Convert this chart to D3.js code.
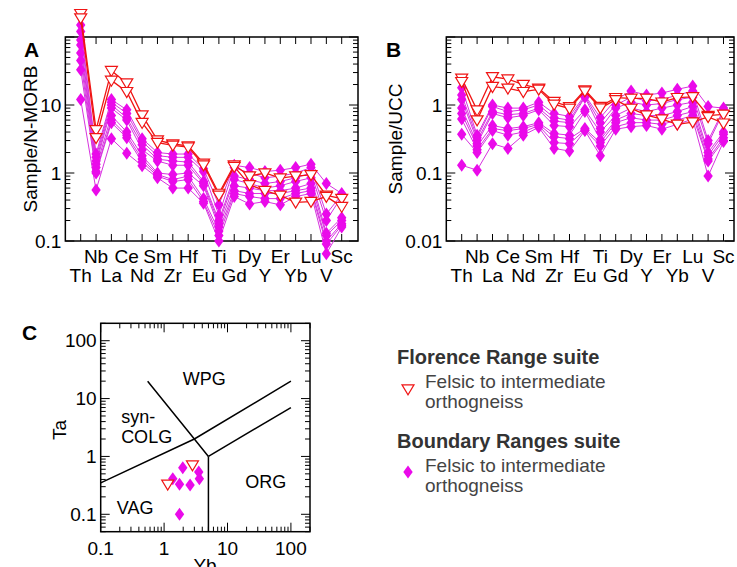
<!DOCTYPE html>
<html>
<head>
<meta charset="utf-8">
<script src="https://d3js.org/d3.v7.min.js"></script>
<style>
    body { margin: 0; background: #fff; }
    svg { font-family: "Liberation Sans", Arial, sans-serif; }
    .frame { fill: none; stroke: #000; stroke-width: 1.5px; }
    .tk { stroke: #000; stroke-width: 1px; }
    .pline { fill: none; stroke: #d733df; stroke-width: 1px; }
    .rline { fill: none; stroke: #f01414; stroke-width: 1.3px; }
    .diamond { fill: #ea0aea; stroke: none; }
    .tri { fill: #fff; stroke: #f01414; stroke-width: 1.2px; }
    .field { fill: none; stroke: #000; stroke-width: 1.5px; }
    .lbl { font-size: 19px; fill: #000; }
    .fld { font-size: 18px; fill: #000; }
    .panel { font-size: 21px; font-weight: bold; fill: #000; }
    .legh { font-size: 20px; font-weight: bold; fill: #333; }
    .legt { font-size: 19px; fill: #444; }
</style>
</head>
<body>
<svg width="737" height="567"></svg>
<script>
// ---- data ----
var elements = ["Th", "Nb", "La", "Ce", "Nd", "Sm", "Zr", "Hf", "Eu", "Ti",
                "Gd", "Dy", "Y", "Er", "Yb", "Lu", "V", "Sc"];

// A: sample / N-MORB, Florence Range suite (red)
var morbF1 = [220, 4.3, 32, 21, 7.1, 3.05, 2.67, 2.5, 1.39, 0.50, 1.31, 0.90, 1.0, 0.84, 0.9, 0.94, 0.47, 0.42];
var morbF2 = [190, 3.3, 23, 15.7, 5.5, 2.8, 2.55, 2.4, 1.31, 0.47, 1.24, 0.67, 0.55, 0.47, 0.37, 0.38, 0.45, 0.32];
// A: sample / N-MORB, Boundary Ranges suite (magenta)
var morbB1 = [150, 1.9, 12, 8.5, 3.2, 2.0, 1.9, 1.9, 1.15, 0.34, 1.3, 1.2, 1.05, 1.1, 1.2, 1.35, 0.7, 0.5];
var morbB2 = [120, 1.7, 11, 7.5, 2.9, 1.8, 1.7, 1.7, 1.05, 0.24, 1.2, 1.0, 0.85, 0.9, 1.0, 1.2, 0.25, 0.48];
var morbB3 = [90, 1.5, 10, 6.5, 2.6, 1.6, 1.5, 1.45, 0.75, 0.2, 0.9, 0.8, 0.7, 0.75, 0.85, 1.0, 0.2, 0.45];
var morbB4 = [76, 1.35, 9, 6, 2.2, 1.5, 1.3, 1.3, 0.7, 0.18, 0.8, 0.7, 0.6, 0.65, 0.75, 0.85, 0.13, 0.22];
var morbB5 = [58, 1.2, 7, 4, 1.8, 1.0, 0.95, 1.0, 0.65, 0.16, 0.65, 0.6, 0.55, 0.55, 0.6, 0.7, 0.12, 0.2];
var morbB6 = [45, 1.05, 6, 3.6, 1.6, 0.95, 0.8, 0.9, 0.42, 0.14, 0.55, 0.5, 0.5, 0.5, 0.55, 0.6, 0.1, 0.18];
var morbB7 = [33, 1.0, 5.5, 3.3, 1.45, 0.9, 0.75, 0.8, 0.38, 0.12, 0.5, 0.45, 0.42, 0.42, 0.5, 0.55, 0.09, 0.17];
var morbB8 = [12, 0.56, 3.2, 1.95, 1.28, 0.85, 0.6, 0.6, 0.36, 0.1, 0.45, 0.35, 0.38, 0.34, 0.45, 0.5, 0.065, 0.16];

// B: sample / UCC
var uccF1 = [2.47, 0.84, 2.6, 2.4, 2.0, 1.76, 1.12, 0.94, 1.66, 0.95, 1.28, 1.25, 1.25, 1.1, 1.28, 1.32, 0.70, 0.73];
var uccF2 = [2.2, 0.60, 1.86, 1.76, 1.57, 1.7, 1.02, 0.89, 1.6, 0.9, 1.19, 0.89, 0.71, 0.62, 0.52, 0.56, 0.67, 0.54];
var uccB1 = [1.8, 0.36, 1.0, 0.9, 0.9, 1.1, 0.75, 0.68, 1.4, 0.65, 1.2, 1.6, 1.4, 1.5, 1.7, 1.9, 0.95, 0.9];
var uccB2 = [1.4, 0.33, 0.95, 0.8, 0.85, 1.0, 0.65, 0.6, 1.35, 0.55, 1.0, 1.3, 1.15, 1.2, 1.4, 1.6, 0.3, 0.85];
var uccB3 = [1.2, 0.3, 0.8, 0.72, 0.75, 0.9, 0.58, 0.55, 1.3, 0.45, 0.9, 1.1, 1.0, 1.05, 1.2, 1.3, 0.27, 0.8];
var uccB4 = [0.9, 0.27, 0.75, 0.65, 0.7, 0.85, 0.5, 0.48, 0.85, 0.4, 0.7, 0.9, 0.8, 0.9, 1.0, 1.1, 0.2, 0.4];
var uccB5 = [0.75, 0.25, 0.5, 0.45, 0.48, 0.55, 0.38, 0.36, 0.8, 0.31, 0.6, 0.75, 0.7, 0.7, 0.8, 0.95, 0.18, 0.37];
var uccB6 = [0.62, 0.22, 0.45, 0.42, 0.45, 0.52, 0.34, 0.32, 0.45, 0.28, 0.55, 0.65, 0.6, 0.6, 0.7, 0.8, 0.16, 0.33];
var uccB7 = [0.37, 0.2, 0.42, 0.36, 0.4, 0.5, 0.28, 0.27, 0.43, 0.25, 0.48, 0.55, 0.55, 0.52, 0.6, 0.7, 0.15, 0.3];
var uccB8 = [0.13, 0.11, 0.27, 0.23, 0.36, 0.47, 0.23, 0.21, 0.42, 0.18, 0.44, 0.48, 0.5, 0.44, 0.52, 0.62, 0.09, 0.29];

// C: Ta vs Yb
var ybFlorence = [1.14, 2.8];
var taFlorence = [0.33, 0.71];
var ybBoundary = [1.37, 1.75, 1.97, 2.57, 3.52, 3.6, 1.75];
var taBoundary = [0.41, 0.33, 0.64, 0.32, 0.54, 0.41, 0.10];

// field boundaries (Pearce et al. 1984), [Yb, Ta]
var lineSynColg = [[0.1, 0.35], [3, 2], [100, 20]];
var lineWpg = [[0.55, 20], [3, 2], [5, 1]];
var lineOrg = [[5, 1], [100, 7]];
var lineVag = [[5, 1], [5, 0.05]];
var fieldNames = ["WPG", "syn-", "COLG", "ORG", "VAG"];
var fieldAt = [[4.3, 17], [0.21, 3.8], [0.21, 1.72], [40, 0.29], [0.35, 0.103]];

var decadeLabel = function (d) { return d >= 1 ? d3.format("d")(d) : String(d); };

var svg = d3.select("svg");

var diamondPath = "M0,-6.5L4.7,0L0,6.5L-4.7,0Z";
var triPath = "M-6,-4.2L6,-4.2L0,5.8Z";

function isDecade(v) {
    var l = Math.log10(v);
    return Math.abs(l - Math.round(l)) < 1e-6;
}

function spider(opt) {
    var g = svg.append("g");
    var x = d3.scalePoint().domain(elements).range([opt.x0, opt.x1]);
    var y = d3.scaleLog().domain(opt.ydom).range([241, 37]);
    var left = opt.x0 - x.step(), right = opt.boxRight;

    // y ticks inward, both sides
    y.ticks().forEach(function (v) {
        var len = isDecade(v) ? 9 : 5;
        g.append("line").attr("class", "tk").attr("x1", left).attr("x2", left + len).attr("y1", y(v)).attr("y2", y(v));
        g.append("line").attr("class", "tk").attr("x1", right).attr("x2", right - len).attr("y1", y(v)).attr("y2", y(v));
        if (isDecade(v) && v < opt.ydom[1]) {
            g.append("text").attr("class", "lbl").attr("x", left - 4).attr("y", y(v)).attr("dy", "0.35em")
                .attr("text-anchor", "end").text(decadeLabel(v));
        }
    });
    // x ticks top and bottom
    elements.forEach(function (e, i) {
        g.append("line").attr("class", "tk").attr("x1", x(e)).attr("x2", x(e)).attr("y1", 37).attr("y2", 44);
        g.append("line").attr("class", "tk").attr("x1", x(e)).attr("x2", x(e)).attr("y1", 241).attr("y2", 234);
        g.append("text").attr("class", "lbl").attr("x", x(e)).attr("y", i % 2 ? 263 : 282)
            .attr("text-anchor", "middle").text(e);
    });
    g.append("rect").attr("class", "frame").attr("x", left).attr("y", 37)
        .attr("width", right - left).attr("height", 204);

    var line = d3.line().x(function (d, i) { return x(elements[i]); }).y(function (d) { return y(d); });

    opt.boundary.forEach(function (s) {
        g.append("path").attr("class", "pline").attr("d", line(s));
    });
    opt.boundary.forEach(function (s) {
        g.selectAll(null).data(s).enter().append("path").attr("class", "diamond")
            .attr("transform", function (d, i) { return "translate(" + x(elements[i]) + "," + y(d) + ")"; })
            .attr("d", diamondPath);
    });
    opt.florence.forEach(function (s) {
        g.append("path").attr("class", "rline").attr("d", line(s));
    });
    opt.florence.forEach(function (s) {
        g.selectAll(null).data(s).enter().append("path").attr("class", "tri")
            .attr("transform", function (d, i) { return "translate(" + x(elements[i]) + "," + y(d) + ")"; })
            .attr("d", triPath);
    });

    g.append("text").attr("class", "lbl")
        .attr("transform", "translate(" + opt.titleX + ",139) rotate(-90)")
        .attr("text-anchor", "middle").text(opt.title);
    g.append("text").attr("class", "panel").attr("x", opt.letterX).attr("y", 57).text(opt.letter);
}

spider({
    x0: 80.7, x1: 341.7, boxRight: 358, ydom: [0.1, 100],
    boundary: [morbB1, morbB2, morbB3, morbB4, morbB5, morbB6, morbB7, morbB8],
    florence: [morbF1, morbF2],
    title: "Sample/N-MORB", titleX: 37, letter: "A", letterX: 24
});
spider({
    x0: 461.7, x1: 723.5, boxRight: 734, ydom: [0.01, 10],
    boundary: [uccB1, uccB2, uccB3, uccB4, uccB5, uccB6, uccB7, uccB8],
    florence: [uccF1, uccF2],
    title: "Sample/UCC", titleX: 402, letter: "B", letterX: 386
});

// ---- panel C ----
(function () {
    var g = svg.append("g");
    var x = d3.scaleLog().domain([0.1, 200]).range([100.7, 310]);
    var y = d3.scaleLog().domain([0.05, 200]).range([531.7, 323.3]);
    var L = 100.7, R = 310, T = 323.3, B = 531.7;

    x.ticks().forEach(function (v) {
        var len = isDecade(v) ? 9 : 5;
        g.append("line").attr("class", "tk").attr("x1", x(v)).attr("x2", x(v)).attr("y1", B).attr("y2", B - len);
        g.append("line").attr("class", "tk").attr("x1", x(v)).attr("x2", x(v)).attr("y1", T).attr("y2", T + len);
        if (isDecade(v)) {
            g.append("text").attr("class", "lbl").attr("x", x(v)).attr("y", 555)
                .attr("text-anchor", "middle").text(decadeLabel(v));
        }
    });
    y.ticks().forEach(function (v) {
        var len = isDecade(v) ? 9 : 5;
        g.append("line").attr("class", "tk").attr("x1", L).attr("x2", L + len).attr("y1", y(v)).attr("y2", y(v));
        g.append("line").attr("class", "tk").attr("x1", R).attr("x2", R - len).attr("y1", y(v)).attr("y2", y(v));
        if (isDecade(v)) {
            g.append("text").attr("class", "lbl").attr("x", L - 4).attr("y", y(v)).attr("dy", "0.35em")
                .attr("text-anchor", "end").text(decadeLabel(v));
        }
    });
    g.append("rect").attr("class", "frame").attr("x", L).attr("y", T).attr("width", R - L).attr("height", B - T);

    var line = d3.line().x(function (d) { return x(d[0]); }).y(function (d) { return y(d[1]); });
    [lineSynColg, lineWpg, lineOrg, lineVag].forEach(function (l) {
        g.append("path").attr("class", "field").attr("d", line(l));
    });
    fieldNames.forEach(function (n, i) {
        g.append("text").attr("class", "fld").attr("x", x(fieldAt[i][0])).attr("y", y(fieldAt[i][1]))
            .attr("text-anchor", i == 1 || i == 2 ? "start" : "middle").text(n);
    });

    g.selectAll(null).data(ybBoundary).enter().append("path").attr("class", "diamond")
        .attr("transform", function (d, i) { return "translate(" + x(d) + "," + y(taBoundary[i]) + ")"; })
        .attr("d", diamondPath);
    g.selectAll(null).data(ybFlorence).enter().append("path").attr("class", "tri")
        .attr("transform", function (d, i) { return "translate(" + x(d) + "," + y(taFlorence[i]) + ")"; })
        .attr("d", triPath);

    g.append("text").attr("class", "lbl").attr("transform", "translate(66,430) rotate(-90)")
        .attr("text-anchor", "middle").text("Ta");
    g.append("text").attr("class", "lbl").attr("x", 205).attr("y", 572).attr("text-anchor", "middle").text("Yb");
    g.append("text").attr("class", "panel").attr("x", 22).attr("y", 340).text("C");
})();

// ---- legend ----
var leg = svg.append("g");
leg.append("text").attr("class", "legh").attr("x", 397).attr("y", 364).text("Florence Range suite");
leg.append("path").attr("class", "tri").attr("transform", "translate(408,389)").attr("d", triPath);
leg.append("text").attr("class", "legt").attr("x", 425).attr("y", 388).text("Felsic to intermediate");
leg.append("text").attr("class", "legt").attr("x", 425).attr("y", 408).text("orthogneiss");
leg.append("text").attr("class", "legh").attr("x", 397).attr("y", 448).text("Boundary Ranges suite");
leg.append("path").attr("class", "diamond").attr("transform", "translate(408,472)").attr("d", diamondPath);
leg.append("text").attr("class", "legt").attr("x", 425).attr("y", 472).text("Felsic to intermediate");
leg.append("text").attr("class", "legt").attr("x", 425).attr("y", 492).text("orthogneiss");
</script>
</body>
</html>
